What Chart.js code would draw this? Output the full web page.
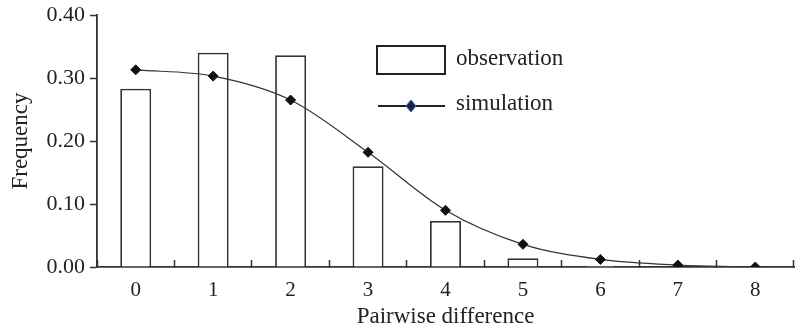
<!DOCTYPE html>
<html>
<head>
<meta charset="utf-8">
<script src="https://cdn.jsdelivr.net/npm/chart.js@4.4.0/dist/chart.umd.min.js"></script>
<style>
  body { margin: 0; background: #fff; }
  #wrap { width: 800px; height: 333px; }
</style>
</head>
<body>
<div id="wrap"><canvas id="chart" width="800" height="333"></canvas></div>
<script>
// valores
const categories = ["0", "1", "2", "3", "4", "5", "6", "7", "8"];
const observation = [0.283, 0.340, 0.336, 0.160, 0.073, 0.014, 0.002, 0.001, 0.000];
const simulation = [0.313, 0.303, 0.265, 0.182, 0.090, 0.036, 0.012, 0.003, 0.000];
const yTicks = [0, 0.1, 0.2, 0.3, 0.4];

const FONT = "'Liberation Serif', 'Times New Roman', serif";

// legenda desenhada dentro da área do gráfico
const legendPlugin = {
  id: "insideLegend",
  afterDraw(chart) {
    const ctx = chart.ctx;
    ctx.save();
    ctx.strokeStyle = "#222";
    ctx.lineWidth = 2;
    ctx.fillStyle = "#fff";
    ctx.fillRect(377, 46, 68, 28);
    ctx.strokeRect(377, 46, 68, 28);

    ctx.beginPath();
    ctx.lineWidth = 2;
    ctx.moveTo(378, 106);
    ctx.lineTo(445, 106);
    ctx.stroke();
    ctx.beginPath();
    ctx.moveTo(411, 100);
    ctx.lineTo(416, 106);
    ctx.lineTo(411, 112);
    ctx.lineTo(406, 106);
    ctx.closePath();
    ctx.fillStyle = "#1b2245";
    ctx.fill();
    ctx.strokeStyle = "#3d5fa8";
    ctx.lineWidth = 1;
    ctx.stroke();

    ctx.fillStyle = "#222";
    ctx.font = "23px " + FONT;
    ctx.textBaseline = "middle";
    ctx.textAlign = "left";
    ctx.fillText("observation", 456, 59);
    ctx.fillText("simulation", 456, 104);
    ctx.restore();
  }
};

const ctx = document.getElementById("chart").getContext("2d");
new Chart(ctx, {
  type: "bar",
  data: {
    labels: categories,
    datasets: [
      {
        type: "line",
        label: "simulation",
        data: simulation,
        borderColor: "#333",
        borderWidth: 1.2,
        cubicInterpolationMode: "monotone",
        pointStyle: "rectRot",
        pointRadius: 5,
        pointBackgroundColor: "#111",
        pointBorderColor: "#111",
        pointBorderWidth: 1,
        fill: false,
        order: 0
      },
      {
        label: "observation",
        data: observation,
        backgroundColor: "#fff",
        borderColor: "#333",
        borderWidth: 1.8,
        barPercentage: 0.4,
        categoryPercentage: 1,
        order: 1
      }
    ]
  },
  options: {
    responsive: false,
    animation: false,
    layout: { padding: { top: 15, right: 2, left: 0, bottom: 2 } },
    plugins: {
      legend: { display: false },
      tooltip: { enabled: false }
    },
    scales: {
      x: {
        offset: true,
        grid: {
          offset: true,
          drawOnChartArea: false,
          tickLength: -7,
          tickWidth: 1.5,
          tickColor: "#333"
        },
        border: { color: "#333", width: 1.8 },
        ticks: { color: "#222", font: { family: FONT, size: 21 }, padding: 18 },
        title: {
          display: true,
          text: "Pairwise difference",
          color: "#222",
          font: { family: FONT, size: 23 },
          padding: { top: 0, bottom: 0 }
        },
        afterFit(scale) { scale.height = 64; }
      },
      y: {
        min: 0,
        max: 0.4,
        afterBuildTicks(scale) { scale.ticks = yTicks.map(v => ({ value: v })); },
        grid: {
          drawOnChartArea: false,
          tickLength: 7,
          tickWidth: 1.5,
          tickColor: "#333"
        },
        border: { color: "#333", width: 1.8 },
        ticks: {
          color: "#222",
          font: { family: FONT, size: 22 },
          padding: 5,
          callback: v => Number(v).toFixed(2)
        },
        title: {
          display: true,
          text: "Frequency",
          color: "#222",
          font: { family: FONT, size: 23 },
          padding: { top: 7, bottom: 0 }
        },
        afterFit(scale) {
          scale.width = 97;
          scale.paddingTop = 0;
          scale.paddingBottom = 0;
        }
      }
    }
  },
  plugins: [legendPlugin]
});
</script>
</body>
</html>
